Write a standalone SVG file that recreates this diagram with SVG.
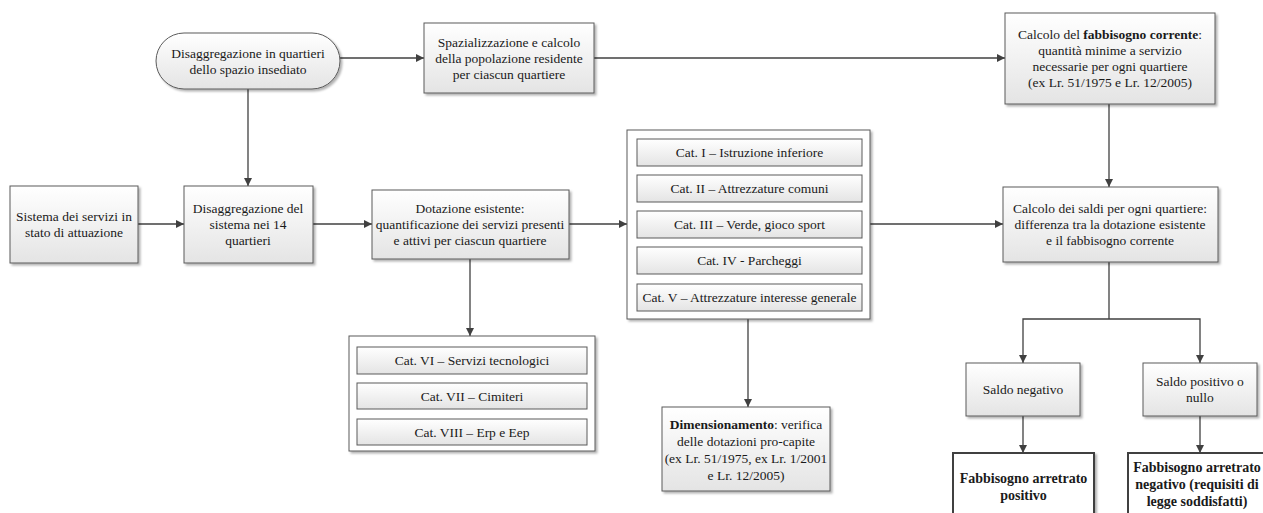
<svg xmlns="http://www.w3.org/2000/svg" width="1263" height="513" viewBox="0 0 1263 513">
<defs>
<linearGradient id="g" x1="0" y1="0" x2="0" y2="1">
<stop offset="0" stop-color="#ffffff"/>
<stop offset="1" stop-color="#e4e4e4"/>
</linearGradient>
<filter id="sh" x="-10%" y="-10%" width="130%" height="130%">
<feDropShadow dx="2" dy="2" stdDeviation="1" flood-color="#000" flood-opacity="0.3"/>
</filter>
<marker id="ah" viewBox="0 0 10 10" refX="10" refY="5" markerWidth="8" markerHeight="8" markerUnits="userSpaceOnUse" orient="auto">
<path d="M0,0 L10,5 L0,10 z" fill="#404040"/>
</marker>
</defs>
<style>
.b{fill:url(#g);stroke:#5a5a5a;stroke-width:1;filter:url(#sh)}
.w{fill:#ffffff;stroke:#5a5a5a;stroke-width:1;filter:url(#sh)}
.r{fill:url(#g);stroke:#5a5a5a;stroke-width:1}
.k{fill:#ffffff;stroke:#404040;stroke-width:2;filter:url(#sh)}
text{font-family:"Liberation Serif","DejaVu Serif",serif;font-size:13.5px;fill:#1a1a1a;text-anchor:middle}
.bd{font-weight:bold}
.bb{font-weight:bold;font-size:14px}
.c{fill:none;stroke:#404040;stroke-width:1.3;marker-end:url(#ah)}
.l{fill:none;stroke:#404040;stroke-width:1.3}
</style>
<rect width="1263" height="513" fill="#ffffff"/>

<g id="connectors">
<path class="c" d="M340,58 H424"/>
<path class="c" d="M594,58 H1005"/>
<path class="c" d="M248,89 V186"/>
<path class="c" d="M138,224 H184"/>
<path class="c" d="M313,224 H372"/>
<path class="c" d="M569,224 H627"/>
<path class="c" d="M870,224 H1003"/>
<path class="c" d="M1109,104 V187"/>
<path class="c" d="M470,259 V336"/>
<path class="c" d="M748,319 V407"/>
<path class="l" d="M1109,262 V319"/>
<path class="c" d="M1109,319 H1023 V363"/>
<path class="c" d="M1109,319 H1200 V363"/>
<path class="c" d="M1023,416 V453"/>
<path class="c" d="M1200,416 V453"/>
</g>

<g id="n-stadium">
<rect class="b" x="156" y="33" width="184" height="56" rx="28" ry="28"/>
<text x="248" y="58">Disaggregazione in quartieri</text>
<text x="248" y="74">dello spazio insediato</text>
</g>

<g id="n-spazializzazione">
<rect class="b" x="424" y="23" width="170" height="70"/>
<text x="509" y="47">Spazializzazione e calcolo</text>
<text x="509" y="63">della popolazione residente</text>
<text x="509" y="79">per ciascun quartiere</text>
</g>

<g id="n-fabbisogno">
<rect class="b" x="1005" y="13" width="210" height="91"/>
<text x="1110" y="39">Calcolo del <tspan class="bd">fabbisogno corrente</tspan>:</text>
<text x="1110" y="55">quantità minime a servizio</text>
<text x="1110" y="71">necessarie per ogni quartiere</text>
<text x="1110" y="87">(ex Lr. 51/1975 e Lr. 12/2005)</text>
</g>

<g id="n-sistema">
<rect class="b" x="10" y="186" width="128" height="77"/>
<text x="74" y="221">Sistema dei servizi in</text>
<text x="74" y="237">stato di attuazione</text>
</g>

<g id="n-disaggregazione">
<rect class="b" x="184" y="186" width="129" height="77"/>
<text x="248" y="213">Disaggregazione del</text>
<text x="248" y="229">sistema nei 14</text>
<text x="248" y="245">quartieri</text>
</g>

<g id="n-dotazione">
<rect class="b" x="372" y="190" width="197" height="69"/>
<text x="470" y="213">Dotazione esistente:</text>
<text x="470" y="229">quantificazione dei servizi presenti</text>
<text x="470" y="245">e attivi per ciascun quartiere</text>
</g>

<g id="n-categorie">
<rect class="w" x="627" y="130" width="243" height="189"/>
<rect class="r" x="637" y="139" width="225" height="27"/>
<text x="749.5" y="157">Cat. I – Istruzione inferiore</text>
<rect class="r" x="637" y="175" width="225" height="27"/>
<text x="749.5" y="193">Cat. II – Attrezzature comuni</text>
<rect class="r" x="637" y="211" width="225" height="27"/>
<text x="749.5" y="229">Cat. III – Verde, gioco sport</text>
<rect class="r" x="637" y="247" width="225" height="27"/>
<text x="749.5" y="265">Cat. IV - Parcheggi</text>
<rect class="r" x="637" y="284" width="225" height="27"/>
<text x="749.5" y="302">Cat. V – Attrezzature interesse generale</text>
</g>

<g id="n-saldi">
<rect class="b" x="1003" y="187" width="215" height="75"/>
<text x="1110" y="213">Calcolo dei saldi per ogni quartiere:</text>
<text x="1110" y="229">differenza tra la dotazione esistente</text>
<text x="1110" y="245">e il fabbisogno corrente</text>
</g>

<g id="n-categorie2">
<rect class="w" x="349" y="336" width="246" height="115"/>
<rect class="r" x="357" y="347" width="230" height="27"/>
<text x="472" y="365">Cat. VI – Servizi tecnologici</text>
<rect class="r" x="357" y="383" width="230" height="26"/>
<text x="472" y="401">Cat. VII – Cimiteri</text>
<rect class="r" x="357" y="419" width="230" height="26"/>
<text x="472" y="437">Cat. VIII – Erp e Eep</text>
</g>

<g id="n-dimensionamento">
<rect class="b" x="662" y="407" width="168" height="84"/>
<text x="746" y="429"><tspan class="bd">Dimensionamento</tspan>: verifica</text>
<text x="746" y="446">delle dotazioni pro-capite</text>
<text x="746" y="463">(ex Lr. 51/1975, ex Lr. 1/2001</text>
<text x="746" y="480">e Lr. 12/2005)</text>
</g>

<g id="n-saldo-neg">
<rect class="b" x="966" y="363" width="114" height="53"/>
<text x="1023" y="394">Saldo negativo</text>
</g>

<g id="n-saldo-pos">
<rect class="b" x="1143" y="363" width="114" height="53"/>
<text x="1200" y="386">Saldo positivo o</text>
<text x="1200" y="402">nullo</text>
</g>

<g id="n-arretrato-pos">
<rect class="k" x="953" y="453" width="141" height="80"/>
<text class="bb" x="1023.5" y="483">Fabbisogno arretrato</text>
<text class="bb" x="1023.5" y="500">positivo</text>
</g>

<g id="n-arretrato-neg">
<rect class="k" x="1128" y="453" width="140" height="80"/>
<text class="bb" x="1197" y="472">Fabbisogno arretrato</text>
<text class="bb" x="1197" y="489">negativo (requisiti di</text>
<text class="bb" x="1197" y="506">legge soddisfatti)</text>
</g>
</svg>
